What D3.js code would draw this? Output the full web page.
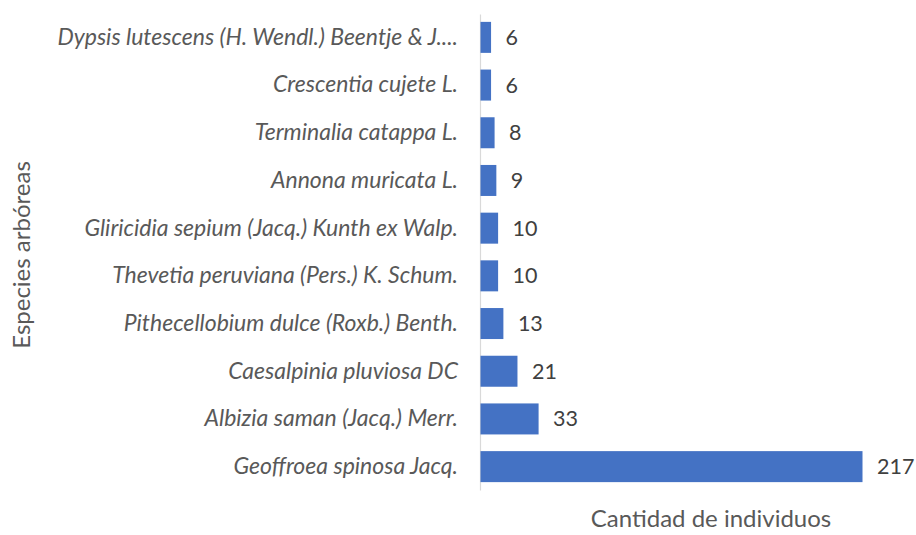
<!DOCTYPE html>
<html>
<head>
<meta charset="utf-8">
<script src="https://cdn.jsdelivr.net/npm/d3@7"></script>
<style>
  body { margin: 0; background: #fff; }
  svg { font-family: Lato, sans-serif; }
</style>
</head>
<body>
<svg id="chart" width="916" height="535"></svg>
<script>
var species = [
    "Dypsis lutescens (H. Wendl.) Beentje & J....",
    "Crescentia cujete L.",
    "Terminalia catappa L.",
    "Annona muricata L.",
    "Gliricidia sepium (Jacq.) Kunth ex Walp.",
    "Thevetia peruviana (Pers.) K. Schum.",
    "Pithecellobium dulce (Roxb.) Benth.",
    "Caesalpinia pluviosa DC",
    "Albizia saman (Jacq.) Merr.",
    "Geoffroea spinosa Jacq."
];
var counts = [6, 6, 8, 9, 10, 10, 13, 21, 33, 217];

var xTitle = "Cantidad de individuos",
    yTitle = "Especies arbóreas";

var svg = d3.select('#chart');

var x = d3.scaleLinear().domain([0, 217]).range([480, 862]);
var y = d3.scaleBand().domain(species).range([14, 490])
    .paddingInner(0.35).paddingOuter(0.165);

// axis line only, no ticks
var yAxis = d3.axisLeft(y).tickSize(0).tickPadding(22);
var gy = svg.append('g').attr('transform', 'translate(480,0)').call(yAxis);
gy.select('.domain').attr('stroke', '#d9d9d9').attr('stroke-width', 1.2);
gy.selectAll('text')
    .attr('font-size', 23)
    .attr('font-style', 'italic')
    .attr('fill', '#595959')
    .attr('font-family', 'Lato, sans-serif');

var data = species.map(function (s, i) { return { name: s, value: counts[i] }; });

svg.selectAll('rect.bar').data(data).enter().append('rect')
    .attr('class', 'bar')
    .attr('x', x(0) + 0.5)
    .attr('y', function (d) { return y(d.name); })
    .attr('width', function (d) { return x(d.value) - x(0); })
    .attr('height', y.bandwidth())
    .attr('fill', '#4472c4');

svg.selectAll('text.val').data(data).enter().append('text')
    .attr('class', 'val')
    .attr('x', function (d) { return x(d.value) + 15; })
    .attr('y', function (d) { return y(d.name) + y.bandwidth() / 2; })
    .attr('dy', '0.35em')
    .attr('font-size', 21.5)
    .attr('fill', '#404040')
    .text(function (d) { return d.value; });

svg.append('text')
    .attr('x', 711).attr('y', 527)
    .attr('text-anchor', 'middle')
    .attr('font-size', 24)
    .attr('fill', '#595959')
    .text(xTitle);

svg.append('text')
    .attr('transform', 'translate(30,255) rotate(-90)')
    .attr('text-anchor', 'middle')
    .attr('font-size', 24)
    .attr('fill', '#595959')
    .text(yTitle);
</script>
</body>
</html>
